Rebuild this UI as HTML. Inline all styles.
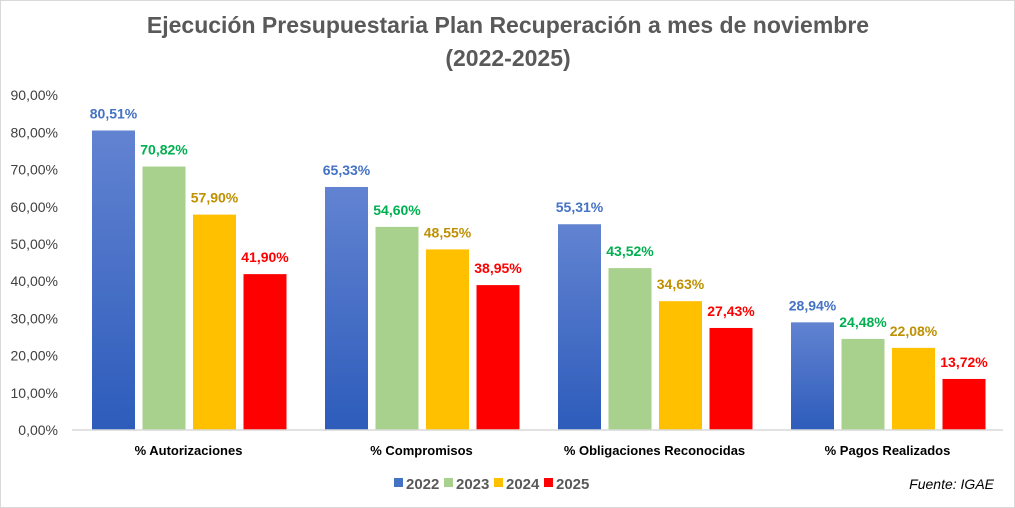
<!DOCTYPE html>
<html><head><meta charset="utf-8"><style>
body{margin:0;background:#fff;}
svg{display:block;font-family:"Liberation Sans",sans-serif;}
</style></head><body>
<svg id="chart" width="1015" height="508" viewBox="0 0 1015 508">
<defs>
<linearGradient id="gBlue" x1="0" y1="0" x2="0" y2="1"><stop offset="0" stop-color="#6283d1"/><stop offset="1" stop-color="#2d5cbb"/></linearGradient>
</defs>
<rect x="0.5" y="0.5" width="1014" height="507" fill="#fff" stroke="#d9d9d9"/>
<text x="508" y="33" text-anchor="middle" font-size="23" font-weight="bold" fill="#595959">Ejecución Presupuestaria Plan Recuperación a mes de noviembre</text>
<text x="508" y="66" text-anchor="middle" font-size="23" font-weight="bold" fill="#595959">(2022-2025)</text>
<g id="yaxis"></g>
<g id="bars"></g>
<line x1="72" y1="430" x2="1003" y2="430" stroke="#d9d9d9" stroke-width="1.5"/>
<g id="legend"></g>
<text x="994" y="489" text-anchor="end" font-size="14" font-style="italic" fill="#000">Fuente: IGAE</text>
</svg>
<script>
const categories=["% Autorizaciones","% Compromisos","% Obligaciones Reconocidas","% Pagos Realizados"];
const years=["2022","2023","2024","2025"];
const s2022=[80.51,65.33,55.31,28.94];
const s2023=[70.82,54.60,43.52,24.48];
const s2024=[57.90,48.55,34.63,22.08];
const s2025=[41.90,38.95,27.43,13.72];
const yTicks=[0,10,20,30,40,50,60,70,80,90];
const series=[s2022,s2023,s2024,s2025];
const fills=["url(#gBlue)","#a9d18e","#ffc000","#ff0000"];
const legendFills=["#4472c4","#a9d18e","#ffc000","#ff0000"];
const labelColors=["#4472c4","#00b050","#bf9000","#ff0000"];
const NS="http://www.w3.org/2000/svg";
const y0=430, pxPer=3.72, plotL=72, catW=233;
function y(v){return y0-v*pxPer;}
function fmt(v){return v.toFixed(2).replace('.',',')+'%';}
function mk(tag,attrs,parent,txt){const e=document.createElementNS(NS,tag);for(const k in attrs)e.setAttribute(k,attrs[k]);if(txt!==undefined)e.textContent=txt;parent.appendChild(e);return e;}
const ya=document.getElementById('yaxis');
yTicks.forEach(t=>{
  const e=mk('text',{x:58,y:y(t)+5,'text-anchor':'end','font-size':14,fill:'#404040'},ya,fmt(t));
  
  
});
const bg=document.getElementById('bars');
categories.forEach((c,i)=>{
  const gx=plotL+i*catW;
  series.forEach((s,j)=>{
    const bx=gx+20+j*50.5, v=s[i];
    const r=mk('rect',{x:bx,y:y(v),width:43,height:v*pxPer,fill:fills[j]},bg);
    
    
    const l=mk('text',{x:bx+21.5,y:y(v)-12,'text-anchor':'middle','font-size':14,'font-weight':'bold',fill:labelColors[j]},bg,fmt(v));
    
    
  });
  const cl=mk('text',{x:gx+catW/2,y:455,'text-anchor':'middle','font-size':13,'font-weight':'bold',fill:'#000'},bg,c);
  
  
});
const lg=document.getElementById('legend');
years.forEach((yr,j)=>{
  const lx=394+j*50;
  const sq=mk('rect',{x:lx,y:478,width:9,height:9,fill:legendFills[j]},lg);
  
  
  const t=mk('text',{x:lx+12,y:489,'font-size':15,'font-weight':'bold',fill:'#595959'},lg,yr);
  
  
});
</script>
</body></html>
